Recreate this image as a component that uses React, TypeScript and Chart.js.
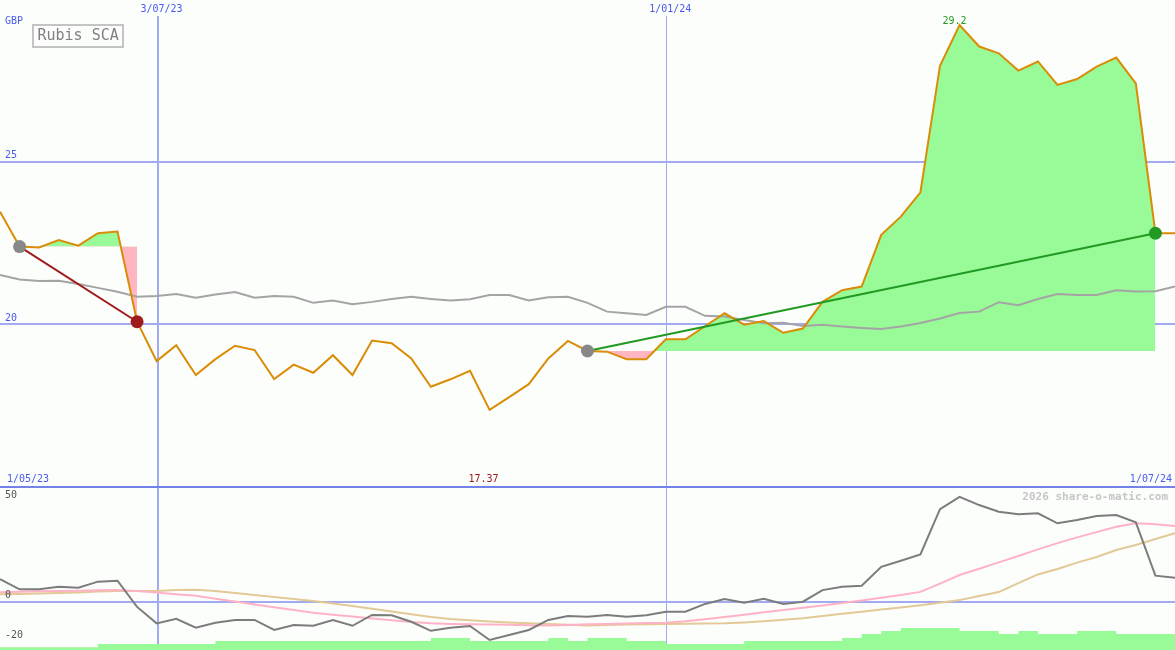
import React, { useEffect, useRef } from 'react';
import { Chart, registerables } from 'chart.js';

Chart.register(...registerables);

// ---- data (weekly points, index 0 = 1/05/23 ... index 60 = 1/07/24) ----
const title = 'Rubis SCA';
const currency = 'GBP';
const price = [
  23.46, 22.39, 22.36, 22.59, 22.42, 22.80, 22.85, 20.08, 18.87, 19.36,
  18.44, 18.93, 19.34, 19.21, 18.32, 18.76, 18.51, 19.05, 18.44, 19.50,
  19.42, 18.95, 18.08, 18.31, 18.57, 17.37, 17.76, 18.16, 18.95, 19.49,
  19.18, 19.16, 18.93, 18.93, 19.54, 19.54, 19.94, 20.34, 19.99, 20.10,
  19.74, 19.87, 20.69, 21.05, 21.16, 22.75, 23.31, 24.06, 27.95, 29.20,
  28.54, 28.33, 27.80, 28.08, 27.36, 27.54, 27.92, 28.20, 27.41, 22.80, 22.80,
];
const movingAvg = [
  21.52, 21.38, 21.33, 21.34, 21.24, 21.12, 21.00, 20.85, 20.87, 20.93,
  20.82, 20.92, 20.99, 20.82, 20.87, 20.85, 20.66, 20.73, 20.62, 20.69,
  20.78, 20.85, 20.78, 20.73, 20.77, 20.90, 20.90, 20.73, 20.83, 20.85,
  20.66, 20.39, 20.34, 20.29, 20.54, 20.54, 20.26, 20.24, 20.13, 20.03,
  20.05, 19.95, 19.99, 19.93, 19.89, 19.86, 19.93, 20.04, 20.18, 20.35,
  20.39, 20.68, 20.59, 20.78, 20.93, 20.90, 20.90, 21.05, 21.01, 21.02, 21.16,
];
const oscMain = [
  11.3, 6.2, 6.2, 7.5, 7.0, 10.0, 10.5, -2.6, -10.8, -8.5,
  -13.0, -10.5, -9.1, -9.1, -14.1, -11.6, -12.0, -9.1, -12.0, -6.6,
  -6.8, -10.0, -14.5, -13.0, -12.1, -19.1, -16.6, -14.1, -9.1, -7.1,
  -7.5, -6.6, -7.5, -6.8, -5.0, -5.0, -1.1, 1.3, -0.5, 1.5,
  -1.1, 0.0, 5.8, 7.5, 8.0, 17.4, 20.4, 23.6, 46.2, 52.3,
  48.2, 44.9, 43.6, 44.1, 39.1, 40.7, 42.7, 43.2, 39.6, 13.0, 12.0,
];
const oscFast = [
  4.7, 5.0, 5.2, 5.4, 5.5, 5.7, 5.8, 5.4, 4.6, 3.7,
  3.0, 1.5, 0.1, -1.4, -2.8, -4.1, -5.5, -6.5, -7.4, -8.4,
  -9.2, -10.1, -10.8, -11.1, -11.3, -11.4, -11.5, -11.7, -11.9, -11.6,
  -11.3, -11.1, -10.9, -10.6, -10.5, -9.8, -8.8, -7.6, -6.5, -5.3,
  -4.1, -3.0, -1.9, -0.7, 0.6, 2.0, 3.4, 4.9, 9.0, 13.3,
  16.4, 19.6, 22.8, 26.1, 29.2, 32.1, 34.7, 37.4, 39.1, 38.6, 37.7,
];
const oscSlow = [
  3.7, 3.9, 4.1, 4.3, 4.6, 5.1, 5.3, 5.3, 5.3, 5.8,
  6.0, 5.4, 4.3, 3.4, 2.4, 1.4, 0.3, -0.9, -2.1, -3.5,
  -4.9, -6.3, -7.6, -8.6, -9.3, -9.9, -10.4, -10.8, -11.1, -11.5,
  -11.9, -11.6, -11.4, -11.2, -11.1, -11.0, -10.9, -10.8, -10.4, -9.8,
  -9.0, -8.2, -7.1, -6.0, -5.0, -3.9, -2.9, -1.8, -0.5, 0.8,
  2.8, 4.8, 9.3, 13.6, 16.3, 19.5, 22.3, 25.8, 28.3, 31.3, 34.1,
];
const volume = [
  0.9, 0.9, 0.9, 0.9, 0.9, 2, 2, 2, 2, 2,
  2, 3, 3, 3, 3, 3, 3, 3, 3, 3,
  3, 3, 4, 4, 3, 3, 3, 3, 4, 3,
  4, 4, 3, 3, 2, 2, 2, 2, 3, 3,
  3, 3, 3, 4, 5.3, 6.3, 7.3, 7.3, 7.3, 6.3,
  6.3, 5.3, 6.3, 5.3, 5.3, 6.3, 6.3, 5.3, 5.3, 5.3,
];
const dateTickLabels = ['3/07/23', '1/01/24'];
const dateTickPositions = [8.07, 34.05];
const dateTickWidths = [2, 1];
const startDateLabel = '1/05/23';
const endDateLabel = '1/07/24';
const priceTicks = [25, 20];
const oscTicks = [50, 0, -20];
const trendDown = [1, 7];
const trendUp = [30, 59];
const watermark = '2026 share-o-matic.com';

// ---- styles ----
const W = 1175;
const TOP_H = 486;
const BOT_H = 164;
const BG = '#fcfefc';
const GRID = '#a2aaf2';
const SEP = '#7282e8';
const AXIS_TXT = '#4a5aee';
const ORANGE = '#da8c06';
const AVG_GRAY = '#a4a4a4';
const OSC_GRAY = '#7c7c7c';
const OSC_PINK = '#ffb2c6';
const OSC_TAN = '#e2c996';
const FILL_GREEN = '#98fb98';
const FILL_PINK = '#ffb6c1';
const RED = '#a01c1c';
const GREEN = '#229a22';
const DOT_GRAY = '#888888';
const MONO = "'DejaVu Sans Mono', 'Liberation Mono', monospace";

const pts = (arr: number[], from = 0, to = arr.length - 1) =>
  arr.slice(from, to + 1).map((y, k) => ({ x: from + k, y }));

function hline(ctx: CanvasRenderingContext2D, y: number, x0: number, x1: number) {
  ctx.beginPath();
  ctx.moveTo(x0, y);
  ctx.lineTo(x1, y);
  ctx.stroke();
}
function vline(ctx: CanvasRenderingContext2D, x: number, y0: number, y1: number) {
  ctx.beginPath();
  ctx.moveTo(x, y0);
  ctx.lineTo(x, y1);
  ctx.stroke();
}
function crisp(p: number, w: number) {
  return w % 2 === 0 ? Math.round(p) : Math.floor(p) + 0.5;
}
function txt(ctx: CanvasRenderingContext2D, s: string, x: number, y: number, color: string, font: string, align: CanvasTextAlign) {
  ctx.font = font;
  ctx.fillStyle = color;
  ctx.textAlign = align;
  ctx.textBaseline = 'middle';
  ctx.fillText(s, x, y);
}

const topDecor = {
  id: 'topDecor',
  beforeDraw(chart: any) {
    const ctx = chart.ctx;
    ctx.save();
    ctx.fillStyle = BG;
    ctx.fillRect(0, 0, chart.width, chart.height);
    ctx.restore();
  },
  beforeDatasetsDraw(chart: any) {
    const { ctx, scales } = chart;
    const x = scales.x, y = scales.y;
    ctx.save();
    ctx.strokeStyle = GRID;
    ctx.lineWidth = 2;
    priceTicks.forEach((v) => hline(ctx, crisp(y.getPixelForValue(v), 2), 0, chart.width));
    dateTickPositions.forEach((p, i) => {
      ctx.lineWidth = dateTickWidths[i];
      vline(ctx, crisp(x.getPixelForValue(p), dateTickWidths[i]), 16, chart.height);
    });
    ctx.restore();
  },
  afterDatasetsDraw(chart: any) {
    const { ctx, scales } = chart;
    const x = scales.x, y = scales.y;
    ctx.save();
    const f10 = `10px ${MONO}`;
    txt(ctx, currency, 5, 21, AXIS_TXT, f10, 'left');
    priceTicks.forEach((v) => txt(ctx, String(v), 5, y.getPixelForValue(v) - 6, AXIS_TXT, f10, 'left'));
    dateTickPositions.forEach((p, i) => txt(ctx, dateTickLabels[i], x.getPixelForValue(p) + 3.5, 9, AXIS_TXT, f10, 'center'));
    txt(ctx, startDateLabel, 7, 479, AXIS_TXT, f10, 'left');
    txt(ctx, endDateLabel, chart.width - 3, 479, AXIS_TXT, f10, 'right');
    // min / max labels
    let mi = 0, ma = 0;
    price.forEach((v, i) => { if (v < price[mi]) mi = i; if (v > price[ma]) ma = i; });
    txt(ctx, price[mi].toFixed(2), x.getPixelForValue(mi) - 6, 479, RED, f10, 'center');
    txt(ctx, String(price[ma]), x.getPixelForValue(ma) - 5, y.getPixelForValue(price[ma]) - 4, GREEN, f10, 'center');
    // legend box
    ctx.strokeStyle = '#c4c4c4';
    ctx.lineWidth = 2;
    ctx.strokeRect(33, 25, 90, 22);
    txt(ctx, title, 37.5, 36, '#808080', `15px ${MONO}`, 'left');
    ctx.restore();
  },
};

const botDecor = {
  id: 'botDecor',
  beforeDraw(chart: any) {
    const ctx = chart.ctx;
    ctx.save();
    ctx.fillStyle = BG;
    ctx.fillRect(0, 0, chart.width, chart.height);
    ctx.restore();
  },
  beforeDatasetsDraw(chart: any) {
    const { ctx, scales } = chart;
    const x = scales.x, y = scales.y;
    ctx.save();
    ctx.strokeStyle = GRID;
    ctx.lineWidth = 2;
    hline(ctx, crisp(y.getPixelForValue(0), 2), 0, chart.width);
    dateTickPositions.forEach((p, i) => {
      ctx.lineWidth = dateTickWidths[i];
      vline(ctx, crisp(x.getPixelForValue(p), dateTickWidths[i]), 0, chart.height);
    });
    ctx.strokeStyle = SEP;
    ctx.lineWidth = 2;
    hline(ctx, 1, 0, chart.width);
    ctx.restore();
  },
  afterDatasetsDraw(chart: any) {
    const { ctx, scales } = chart;
    const y = scales.y;
    ctx.save();
    const f10 = `10px ${MONO}`;
    oscTicks.forEach((v) =>
      txt(ctx, String(v), 5, Math.min(y.getPixelForValue(v) - 6, chart.height - 8), '#555555', f10, 'left'));
    txt(ctx, watermark, 1168, 11.5, '#c6c6c6', `bold 11px ${MONO}`, 'right');
    ctx.restore();
  },
};

export default function App() {
  const topRef = useRef<HTMLCanvasElement>(null);
  const botRef = useRef<HTMLCanvasElement>(null);

  useEffect(() => {
    const xScale = { type: 'linear' as const, min: 0, max: price.length - 1, display: false };
    const common = {
      animation: false as const,
      responsive: false,
      devicePixelRatio: 1,
      events: [] as any[],
      layout: { padding: 0, autoPadding: false },
      elements: { line: { tension: 0 }, point: { radius: 0 } },
      plugins: { legend: { display: false }, tooltip: { enabled: false } },
    };

    const top = new Chart(topRef.current!, {
      type: 'line',
      data: {
        datasets: [
          {
            data: trendDown.map((i) => ({ x: i, y: price[i] })),
            borderColor: RED, borderWidth: 2,
            pointRadius: 6.5, pointBorderWidth: 0,
            pointBackgroundColor: [DOT_GRAY, RED], order: 1,
          },
          {
            data: trendUp.map((i) => ({ x: i, y: price[i] })),
            borderColor: GREEN, borderWidth: 2,
            pointRadius: 6.5, pointBorderWidth: 0,
            pointBackgroundColor: [DOT_GRAY, GREEN], order: 1,
          },
          {
            data: pts(price), borderColor: ORANGE, borderWidth: 2, pointRadius: 0, order: 2,
          },
          {
            data: pts(movingAvg), borderColor: AVG_GRAY, borderWidth: 2, pointRadius: 0, order: 3,
          },
          {
            data: pts(price, trendDown[0], trendDown[1]),
            borderColor: 'transparent', borderWidth: 0, pointRadius: 0,
            fill: { target: { value: price[trendDown[0]] }, above: FILL_GREEN, below: FILL_PINK },
            order: 4,
          },
          {
            data: pts(price, trendUp[0], trendUp[1]),
            borderColor: 'transparent', borderWidth: 0, pointRadius: 0,
            fill: { target: { value: price[trendUp[0]] }, above: FILL_GREEN, below: FILL_PINK },
            order: 4,
          },
        ] as any,
      },
      options: {
        ...common,
        scales: { x: xScale, y: { min: 15.03, max: 29.97, display: false } },
      } as any,
      plugins: [topDecor],
    });

    const bot = new Chart(botRef.current!, {
      type: 'line',
      data: {
        datasets: [
          { data: pts(oscMain), borderColor: OSC_GRAY, borderWidth: 2, pointRadius: 0, order: 1 },
          { data: pts(oscFast), borderColor: OSC_PINK, borderWidth: 2, pointRadius: 0, order: 2 },
          { data: pts(oscSlow), borderColor: OSC_TAN, borderWidth: 2, pointRadius: 0, order: 3 },
          {
            data: pts([...volume, volume[volume.length - 1]]),
            yAxisID: 'yv', stepped: true,
            borderColor: 'transparent', borderWidth: 0, pointRadius: 0,
            backgroundColor: FILL_GREEN, fill: 'start', order: 5,
          },
        ] as any,
      },
      options: {
        ...common,
        scales: {
          x: xScale,
          y: { min: -24.08, max: 57.7, display: false },
          yv: { min: 0, max: BOT_H / 3, display: false },
        },
      } as any,
      plugins: [botDecor],
    });

    return () => {
      top.destroy();
      bot.destroy();
    };
  }, []);

  return (
    <div style={{ position: 'absolute', left: 0, top: 0, width: W, height: TOP_H + BOT_H, background: BG }}>
      <canvas ref={topRef} width={W} height={TOP_H}
        style={{ position: 'absolute', left: 0, top: 0, display: 'block' }} />
      <canvas ref={botRef} width={W} height={BOT_H}
        style={{ position: 'absolute', left: 0, top: TOP_H, display: 'block' }} />
    </div>
  );
}
